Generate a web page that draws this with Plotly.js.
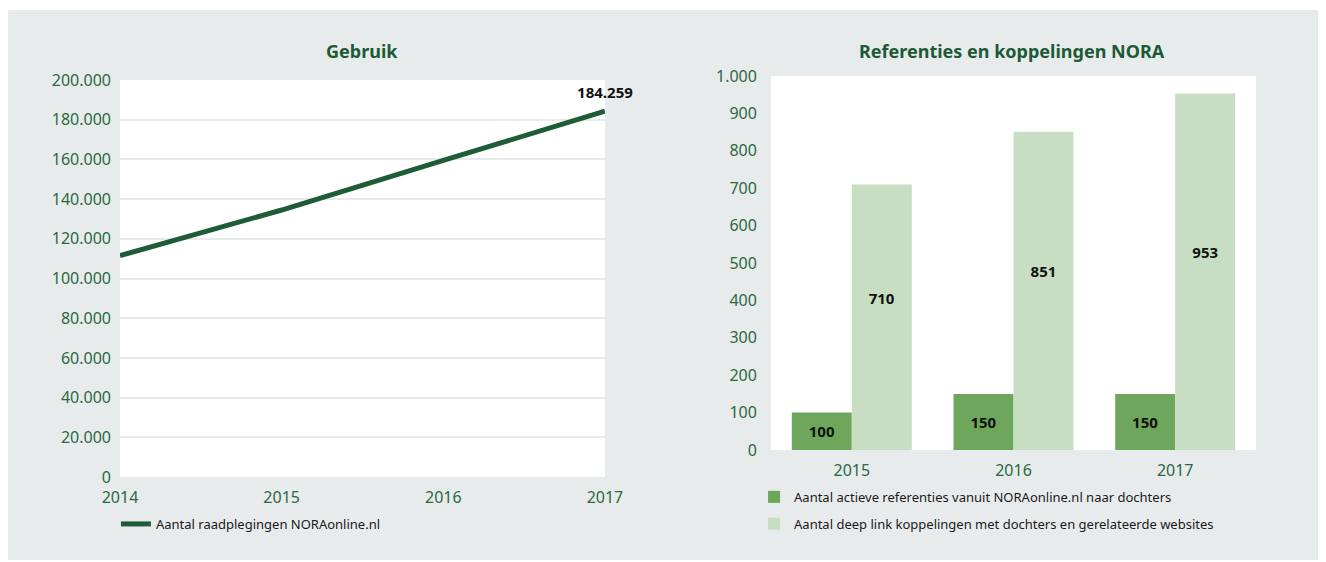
<!DOCTYPE html>
<html>
<head>
<meta charset="utf-8">
<script src="https://cdn.plot.ly/plotly-3.0.1.min.js"></script>
<style>
  html, body { margin: 0; padding: 0; background: #ffffff; width: 1326px; height: 562px; overflow: hidden; }
  #chart { position: absolute; left: 8px; top: 10px; width: 1310px; height: 550px; }
</style>
</head>
<body>
<div id="chart"></div>
<script>
// ---- data ----
const lineYears = [2014, 2015, 2016, 2017];
const lineValues = [111500, 134500, 159500, 184259];
const lineName = 'Aantal raadplegingen NORAonline.nl';

const barCategories = ['2015', '2016', '2017'];
const barReferenties = [100, 150, 150];
const barDeepLinks = [710, 851, 953];
const barNames = [
  'Aantal actieve referenties vanuit NORAonline.nl naar dochters',
  'Aantal deep link koppelingen met dochters en gerelateerde websites'
];
const titles = ['Gebruik', 'Referenties en koppelingen NORA'];

// ---- styles ----
const FONT = 'Noto Sans, Open Sans, sans-serif';
const TITLE_GREEN = '#1c5a36';
const TICK_GREEN = '#2a6943';
const LINE_GREEN = '#1e5b37';
const DARK_BAR = '#6ea65b';
const LIGHT_BAR = '#c7dec3';
const BG = '#e8ebeb';

const lastIdx = lineValues.length - 1;
const lineTemplates = lineValues.map((v, i) => i === lastIdx ? '%{y:,}' : '');
const labelGap = lineValues.map((v, i) => i === lastIdx ? 14 : 0);

const traces = [
  {
    type: 'scatter', mode: 'lines+markers+text',
    x: lineYears, y: lineValues, name: lineName, showlegend: true,
    line: { color: LINE_GREEN, width: 5 },
    marker: { size: labelGap, color: 'rgba(0,0,0,0)', line: { width: 0 } },
    texttemplate: lineTemplates, textposition: 'top center',
    textfont: { family: FONT, size: 15, color: '#111111', weight: 'bold' },
    cliponaxis: false,
    xaxis: 'x', yaxis: 'y', legend: 'legend', hoverinfo: 'skip'
  },
  {
    type: 'bar', x: barCategories, y: barReferenties, name: barNames[0], showlegend: true,
    marker: { color: DARK_BAR },
    texttemplate: '%{y}', textposition: 'inside', insidetextanchor: 'middle', textangle: 0,
    insidetextfont: { family: FONT, size: 15, color: '#111111', weight: 'bold' },
    xaxis: 'x2', yaxis: 'y2', legend: 'legend2', legendgroup: 'a', hoverinfo: 'skip'
  },
  {
    type: 'bar', x: barCategories, y: barDeepLinks, name: barNames[1], showlegend: true,
    marker: { color: LIGHT_BAR },
    texttemplate: '%{y}<br> <br> ', textposition: 'inside', insidetextanchor: 'middle', textangle: 0,
    insidetextfont: { family: FONT, size: 15, color: '#111111', weight: 'bold' },
    xaxis: 'x2', yaxis: 'y2', legend: 'legend2', legendgroup: 'b', hoverinfo: 'skip'
  }
];

const tickFont = { family: FONT, size: 16, color: TICK_GREEN };

const layout = {
  width: 1310, height: 550,
  margin: { l: 0, r: 0, t: 0, b: 0 },
  paper_bgcolor: BG,
  plot_bgcolor: '#ffffff',
  separators: ',.',
  showlegend: true,
  font: { family: FONT, color: '#1a1a1a' },
  bargap: 0.258, bargroupgap: 0,
  barmode: 'group',
  xaxis: {
    domain: [0.0855, 0.4557], range: [2014, 2017], dtick: 1, tickformat: 'd',
    showgrid: false, zeroline: false, showline: false, ticks: '',
    tickfont: tickFont, ticklabelstandoff: 9, fixedrange: true
  },
  yaxis: {
    domain: [0.1509, 0.8727], range: [0, 200000], dtick: 20000, tickformat: ',',
    showgrid: true, gridcolor: BG, gridwidth: 2, zeroline: false, showline: false, ticks: '',
    tickfont: tickFont, ticklabelstandoff: 8, fixedrange: true
  },
  xaxis2: {
    domain: [0.5824, 0.9527], type: 'category', range: [-0.5, 2.5],
    showgrid: false, zeroline: false, showline: false, ticks: '',
    tickfont: tickFont, ticklabelstandoff: 9, anchor: 'y2', fixedrange: true
  },
  yaxis2: {
    domain: [0.2, 0.88], range: [0, 1000], dtick: 100, tickformat: ',',
    showgrid: false, zeroline: false, showline: false, ticks: '',
    tickfont: tickFont, ticklabelstandoff: 13, anchor: 'x2', fixedrange: true
  },
  legend: {
    x: 0.0824, xanchor: 'left', y: 0.0655, yanchor: 'middle', orientation: 'v',
    bgcolor: 'rgba(0,0,0,0)', font: { family: FONT, size: 13, color: '#1a1a1a' }
  },
  legend2: {
    x: 0.5695, xanchor: 'left', y: 0.142, yanchor: 'top',
    bgcolor: 'rgba(0,0,0,0)', font: { family: FONT, size: 13, color: '#1a1a1a' },
    tracegroupgap: 7, traceorder: 'grouped'
  },
  annotations: [
    { text: titles[0], xref: 'paper', yref: 'paper', x: 0.2706, y: 0.9255, xanchor: 'center', yanchor: 'middle',
      showarrow: false, font: { family: FONT, size: 18, color: TITLE_GREEN, weight: 'bold' } },
    { text: titles[1], xref: 'paper', yref: 'paper', x: 0.7665, y: 0.9255, xanchor: 'center', yanchor: 'middle',
      showarrow: false, font: { family: FONT, size: 18, color: TITLE_GREEN, weight: 'bold' } }
  ]
};

Plotly.newPlot('chart', traces, layout, { displayModeBar: false, staticPlot: true });
</script>
</body>
</html>
